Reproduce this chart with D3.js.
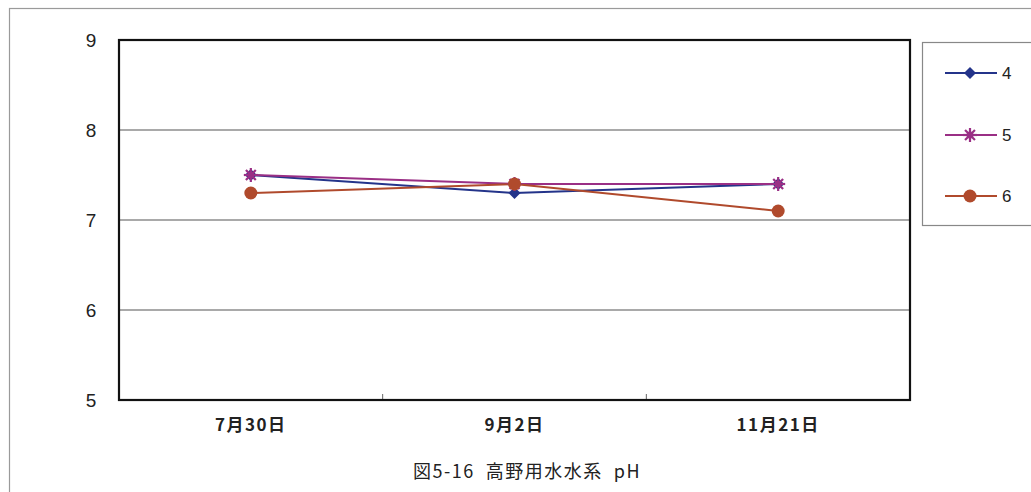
<!DOCTYPE html>
<html><head><meta charset="utf-8">
<script src="https://cdn.jsdelivr.net/npm/d3@7"></script>
<style>body{margin:0;background:#fff;}svg{display:block;}</style>
</head><body>
<script>
const categories = ["7月30日", "9月2日", "11月21日"];
const seriesNames = ["4", "5", "6"];
const s4 = [7.5, 7.3, 7.4];
const s5 = [7.5, 7.4, 7.4];
const s6 = [7.3, 7.4, 7.1];
const yTicks = [5, 6, 7, 8, 9];
const title = "図5-16\u00a0\u00a0高野用水水系\u00a0\u00a0pH";
const colors = ["#24348a", "#9a2f85", "#b04a2c"];
const markers = ["diamond", "star", "circle"];
const allSeries = [s4, s5, s6];

const W = 1031, H = 492;
const svg = d3.select("body").append("svg").attr("width", W).attr("height", H);
const font = "'Liberation Sans', Arial, sans-serif";
const jfont = "'Noto Sans CJK JP', sans-serif";

// outer frame
svg.append("rect").attr("x", 9.5).attr("y", 8.5).attr("width", W).attr("height", H)
  .attr("fill", "none").attr("stroke", "#9a9a9a").attr("stroke-width", 1.2);

const L = 119, R = 910, T = 40, B = 400;
const x = d3.scaleBand().domain(categories).range([L, R]);
const y = d3.scaleLinear().domain([5, 9]).range([B, T]);

// gridlines
svg.append("g").selectAll("line").data(yTicks.filter(v => v > 5 && v < 9)).join("line")
  .attr("x1", L).attr("x2", R).attr("y1", d => y(d)).attr("y2", d => y(d))
  .attr("stroke", "#8c8c8c").attr("stroke-width", 1.3);

// y tick labels
svg.append("g").selectAll("text").data(yTicks).join("text")
  .attr("x", 91).attr("y", d => y(d)).attr("dy", "0.36em").attr("text-anchor", "middle")
  .attr("font-family", font).attr("font-size", 19).attr("fill", "#222").text(d => d);

// x ticks at band boundaries
svg.append("g").selectAll("line").data(categories.slice(1)).join("line")
  .attr("x1", d => x(d)).attr("x2", d => x(d)).attr("y1", B).attr("y2", B - 6)
  .attr("stroke", "#666").attr("stroke-width", 1);

// x labels
svg.append("g").selectAll("text").data(categories).join("text")
  .attr("x", d => x(d) + x.bandwidth() / 2).attr("y", 431).attr("text-anchor", "middle")
  .attr("font-family", jfont).attr("font-size", 17).attr("font-weight", "bold")
  .attr("letter-spacing", 1.5).attr("fill", "#222").text(d => d);

// plot border
svg.append("rect").attr("x", L).attr("y", T).attr("width", R - L).attr("height", B - T)
  .attr("fill", "none").attr("stroke", "#111").attr("stroke-width", 2.2);

function drawMarker(g, type, cx, cy, color) {
  if (type === "diamond") {
    const r = 6;
    g.append("path").attr("d", `M${cx},${cy - r}L${cx + r},${cy}L${cx},${cy + r}L${cx - r},${cy}Z`)
      .attr("fill", color);
  } else if (type === "star") {
    const r = 7;
    const p = g.append("g").attr("transform", `translate(${cx},${cy})`)
      .attr("stroke", color).attr("stroke-width", 2.2);
    [0, 45, 90, 135].forEach(a => {
      const rad = a * Math.PI / 180;
      p.append("line").attr("x1", -r * Math.cos(rad)).attr("y1", -r * Math.sin(rad))
        .attr("x2", r * Math.cos(rad)).attr("y2", r * Math.sin(rad));
    });
    g.append("circle").attr("cx", cx).attr("cy", cy).attr("r", 3.5).attr("fill", color);
  } else {
    g.append("circle").attr("cx", cx).attr("cy", cy).attr("r", 6.5).attr("fill", color);
  }
}

const line = d3.line().x((d, i) => x(categories[i]) + x.bandwidth() / 2).y(d => y(d));
allSeries.forEach((s, k) => {
  const g = svg.append("g");
  g.append("path").datum(s).attr("d", line).attr("fill", "none")
    .attr("stroke", colors[k]).attr("stroke-width", 2);
});
allSeries.forEach((s, k) => {
  const g = svg.append("g");
  s.forEach((v, i) => drawMarker(g, markers[k], x(categories[i]) + x.bandwidth() / 2, y(v), colors[k]));
});

// legend
svg.append("rect").attr("x", 922.5).attr("y", 42.5).attr("width", 140).attr("height", 183)
  .attr("fill", "none").attr("stroke", "#888").attr("stroke-width", 1.2);
const legY = [73, 135, 196];
seriesNames.forEach((n, k) => {
  const g = svg.append("g");
  g.append("line").attr("x1", 945).attr("x2", 997).attr("y1", legY[k]).attr("y2", legY[k])
    .attr("stroke", colors[k]).attr("stroke-width", 2);
  drawMarker(g, markers[k], 970, legY[k], colors[k]);
  g.append("text").attr("x", 1002).attr("y", legY[k]).attr("dy", "0.36em")
    .attr("font-family", font).attr("font-size", 17).attr("fill", "#222").text(n);
});

// title
svg.append("text").attr("x", 527).attr("y", 478).attr("text-anchor", "middle")
  .attr("font-family", jfont).attr("font-size", 18).attr("letter-spacing", 1.5)
  .attr("fill", "#222").text(title);
</script>
</body></html>
